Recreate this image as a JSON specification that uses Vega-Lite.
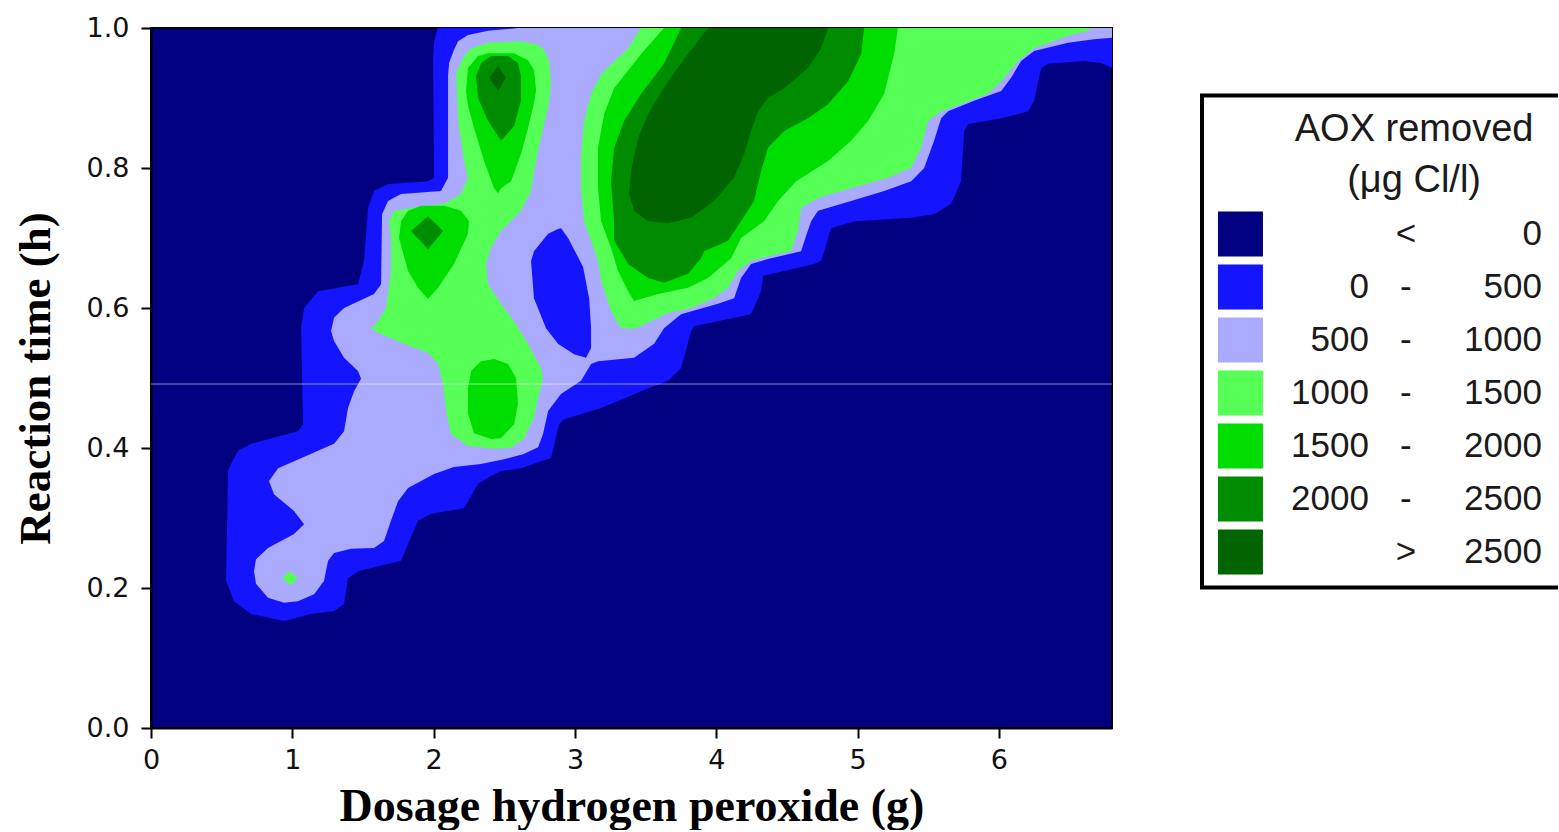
{
"$schema":"https://vega.github.io/schema/vega-lite/v6.json",
"padding":{"left":12,"top":13,"right":0,"bottom":0},
"background":"white",
"bounds":"flush",
"spacing":88,
"hconcat":[
{
"width":961,"height":700,
"view":{"fill":"#000080","stroke":"black","strokeWidth":2},
"layer":[
{
"data":{"values":[
{"b":"a","c":1,"i":0,"x":2.028,"y":1},{"b":"a","c":1,"i":1,"x":6.8,"y":1},{"b":"a","c":1,"i":2,"x":6.8,"y":0.943},{"b":"a","c":1,"i":3,"x":6.723,"y":0.95},{"b":"a","c":1,"i":4,"x":6.603,"y":0.953},{"b":"a","c":1,"i":5,"x":6.348,"y":0.949},{"b":"a","c":1,"i":6,"x":6.299,"y":0.943},{"b":"a","c":1,"i":7,"x":6.249,"y":0.896},{"b":"a","c":1,"i":8,"x":6.207,"y":0.881},{"b":"a","c":1,"i":9,"x":6.016,"y":0.871},{"b":"a","c":1,"i":10,"x":5.782,"y":0.863},{"b":"a","c":1,"i":11,"x":5.754,"y":0.853},{"b":"a","c":1,"i":12,"x":5.732,"y":0.781},{"b":"a","c":1,"i":13,"x":5.662,"y":0.749},{"b":"a","c":1,"i":14,"x":5.541,"y":0.734},{"b":"a","c":1,"i":15,"x":5.379,"y":0.729},{"b":"a","c":1,"i":16,"x":4.975,"y":0.724},{"b":"a","c":1,"i":17,"x":4.812,"y":0.714},{"b":"a","c":1,"i":18,"x":4.742,"y":0.667},{"b":"a","c":1,"i":19,"x":4.692,"y":0.663},{"b":"a","c":1,"i":20,"x":4.48,"y":0.653},{"b":"a","c":1,"i":21,"x":4.331,"y":0.646},{"b":"a","c":1,"i":22,"x":4.317,"y":0.624},{"b":"a","c":1,"i":23,"x":4.246,"y":0.591},{"b":"a","c":1,"i":24,"x":4.126,"y":0.586},{"b":"a","c":1,"i":25,"x":3.843,"y":0.574},{"b":"a","c":1,"i":26,"x":3.822,"y":0.567},{"b":"a","c":1,"i":27,"x":3.751,"y":0.514},{"b":"a","c":1,"i":28,"x":3.659,"y":0.496},{"b":"a","c":1,"i":29,"x":3.468,"y":0.481},{"b":"a","c":1,"i":30,"x":3.185,"y":0.457},{"b":"a","c":1,"i":31,"x":2.923,"y":0.441},{"b":"a","c":1,"i":32,"x":2.887,"y":0.434},{"b":"a","c":1,"i":33,"x":2.831,"y":0.386},{"b":"a","c":1,"i":34,"x":2.619,"y":0.371},{"b":"a","c":1,"i":35,"x":2.477,"y":0.367},{"b":"a","c":1,"i":36,"x":2.406,"y":0.36},{"b":"a","c":1,"i":37,"x":2.314,"y":0.349},{"b":"a","c":1,"i":38,"x":2.215,"y":0.314},{"b":"a","c":1,"i":39,"x":1.982,"y":0.306},{"b":"a","c":1,"i":40,"x":1.89,"y":0.296},{"b":"a","c":1,"i":41,"x":1.819,"y":0.263},{"b":"a","c":1,"i":42,"x":1.769,"y":0.239},{"b":"a","c":1,"i":43,"x":1.465,"y":0.224},{"b":"a","c":1,"i":44,"x":1.394,"y":0.214},{"b":"a","c":1,"i":45,"x":1.366,"y":0.177},{"b":"a","c":1,"i":46,"x":1.295,"y":0.167},{"b":"a","c":1,"i":47,"x":1.132,"y":0.163},{"b":"a","c":1,"i":48,"x":0.941,"y":0.153},{"b":"a","c":1,"i":49,"x":0.708,"y":0.163},{"b":"a","c":1,"i":50,"x":0.587,"y":0.181},{"b":"a","c":1,"i":51,"x":0.531,"y":0.21},{"b":"a","c":1,"i":52,"x":0.545,"y":0.367},{"b":"a","c":1,"i":53,"x":0.566,"y":0.377},{"b":"a","c":1,"i":54,"x":0.616,"y":0.396},{"b":"a","c":1,"i":55,"x":0.708,"y":0.406},{"b":"a","c":1,"i":56,"x":1.04,"y":0.424},{"b":"a","c":1,"i":57,"x":1.076,"y":0.434},{"b":"a","c":1,"i":58,"x":1.062,"y":0.571},{"b":"a","c":1,"i":59,"x":1.083,"y":0.6},{"b":"a","c":1,"i":60,"x":1.182,"y":0.624},{"b":"a","c":1,"i":61,"x":1.465,"y":0.634},{"b":"a","c":1,"i":62,"x":1.507,"y":0.667},{"b":"a","c":1,"i":63,"x":1.536,"y":0.743},{"b":"a","c":1,"i":64,"x":1.578,"y":0.767},{"b":"a","c":1,"i":65,"x":1.677,"y":0.777},{"b":"a","c":1,"i":66,"x":1.96,"y":0.781},{"b":"a","c":1,"i":67,"x":2.003,"y":0.786},{"b":"a","c":1,"i":68,"x":1.996,"y":0.96},{"b":"a","c":1,"i":69,"x":2.003,"y":0.979},
{"b":"b","c":2,"i":0,"x":2.597,"y":1},{"b":"b","c":2,"i":1,"x":2.385,"y":0.996},{"b":"b","c":2,"i":2,"x":2.243,"y":0.99},{"b":"b","c":2,"i":3,"x":2.173,"y":0.981},{"b":"b","c":2,"i":4,"x":2.144,"y":0.969},{"b":"b","c":2,"i":5,"x":2.109,"y":0.95},{"b":"b","c":2,"i":6,"x":2.102,"y":0.931},{"b":"b","c":2,"i":7,"x":2.102,"y":0.786},{"b":"b","c":2,"i":8,"x":2.052,"y":0.767},{"b":"b","c":2,"i":9,"x":1.769,"y":0.763},{"b":"b","c":2,"i":10,"x":1.677,"y":0.753},{"b":"b","c":2,"i":11,"x":1.635,"y":0.734},{"b":"b","c":2,"i":12,"x":1.628,"y":0.634},{"b":"b","c":2,"i":13,"x":1.578,"y":0.62},{"b":"b","c":2,"i":14,"x":1.366,"y":0.6},{"b":"b","c":2,"i":15,"x":1.295,"y":0.586},{"b":"b","c":2,"i":16,"x":1.274,"y":0.567},{"b":"b","c":2,"i":17,"x":1.295,"y":0.553},{"b":"b","c":2,"i":18,"x":1.366,"y":0.529},{"b":"b","c":2,"i":19,"x":1.465,"y":0.51},{"b":"b","c":2,"i":20,"x":1.486,"y":0.499},{"b":"b","c":2,"i":21,"x":1.437,"y":0.481},{"b":"b","c":2,"i":22,"x":1.394,"y":0.457},{"b":"b","c":2,"i":23,"x":1.366,"y":0.424},{"b":"b","c":2,"i":24,"x":1.295,"y":0.406},{"b":"b","c":2,"i":25,"x":1.182,"y":0.396},{"b":"b","c":2,"i":26,"x":1.012,"y":0.381},{"b":"b","c":2,"i":27,"x":0.899,"y":0.371},{"b":"b","c":2,"i":28,"x":0.835,"y":0.353},{"b":"b","c":2,"i":29,"x":0.87,"y":0.334},{"b":"b","c":2,"i":30,"x":1.012,"y":0.31},{"b":"b","c":2,"i":31,"x":1.083,"y":0.291},{"b":"b","c":2,"i":32,"x":1.012,"y":0.277},{"b":"b","c":2,"i":33,"x":0.828,"y":0.257},{"b":"b","c":2,"i":34,"x":0.743,"y":0.241},{"b":"b","c":2,"i":35,"x":0.729,"y":0.224},{"b":"b","c":2,"i":36,"x":0.743,"y":0.206},{"b":"b","c":2,"i":37,"x":0.828,"y":0.186},{"b":"b","c":2,"i":38,"x":0.941,"y":0.179},{"b":"b","c":2,"i":39,"x":1.04,"y":0.181},{"b":"b","c":2,"i":40,"x":1.154,"y":0.191},{"b":"b","c":2,"i":41,"x":1.224,"y":0.21},{"b":"b","c":2,"i":42,"x":1.253,"y":0.239},{"b":"b","c":2,"i":43,"x":1.295,"y":0.25},{"b":"b","c":2,"i":44,"x":1.415,"y":0.256},{"b":"b","c":2,"i":45,"x":1.578,"y":0.257},{"b":"b","c":2,"i":46,"x":1.649,"y":0.267},{"b":"b","c":2,"i":47,"x":1.698,"y":0.296},{"b":"b","c":2,"i":48,"x":1.748,"y":0.324},{"b":"b","c":2,"i":49,"x":1.819,"y":0.343},{"b":"b","c":2,"i":50,"x":2.003,"y":0.363},{"b":"b","c":2,"i":51,"x":2.144,"y":0.373},{"b":"b","c":2,"i":52,"x":2.335,"y":0.377},{"b":"b","c":2,"i":53,"x":2.498,"y":0.384},{"b":"b","c":2,"i":54,"x":2.633,"y":0.391},{"b":"b","c":2,"i":55,"x":2.739,"y":0.401},{"b":"b","c":2,"i":56,"x":2.774,"y":0.42},{"b":"b","c":2,"i":57,"x":2.81,"y":0.453},{"b":"b","c":2,"i":58,"x":2.901,"y":0.477},{"b":"b","c":2,"i":59,"x":3.043,"y":0.496},{"b":"b","c":2,"i":60,"x":3.114,"y":0.52},{"b":"b","c":2,"i":61,"x":3.163,"y":0.524},{"b":"b","c":2,"i":62,"x":3.418,"y":0.529},{"b":"b","c":2,"i":63,"x":3.56,"y":0.549},{"b":"b","c":2,"i":64,"x":3.63,"y":0.571},{"b":"b","c":2,"i":65,"x":3.751,"y":0.591},{"b":"b","c":2,"i":66,"x":4.012,"y":0.606},{"b":"b","c":2,"i":67,"x":4.126,"y":0.614},{"b":"b","c":2,"i":68,"x":4.175,"y":0.643},{"b":"b","c":2,"i":69,"x":4.246,"y":0.663},{"b":"b","c":2,"i":70,"x":4.366,"y":0.67},{"b":"b","c":2,"i":71,"x":4.6,"y":0.681},{"b":"b","c":2,"i":72,"x":4.635,"y":0.703},{"b":"b","c":2,"i":73,"x":4.671,"y":0.724},{"b":"b","c":2,"i":74,"x":4.72,"y":0.739},{"b":"b","c":2,"i":75,"x":4.954,"y":0.753},{"b":"b","c":2,"i":76,"x":5.188,"y":0.767},{"b":"b","c":2,"i":77,"x":5.379,"y":0.781},{"b":"b","c":2,"i":78,"x":5.471,"y":0.8},{"b":"b","c":2,"i":79,"x":5.541,"y":0.839},{"b":"b","c":2,"i":80,"x":5.591,"y":0.871},{"b":"b","c":2,"i":81,"x":5.64,"y":0.881},{"b":"b","c":2,"i":82,"x":5.824,"y":0.896},{"b":"b","c":2,"i":83,"x":6.016,"y":0.91},{"b":"b","c":2,"i":84,"x":6.086,"y":0.929},{"b":"b","c":2,"i":85,"x":6.157,"y":0.953},{"b":"b","c":2,"i":86,"x":6.249,"y":0.967},{"b":"b","c":2,"i":87,"x":6.489,"y":0.979},{"b":"b","c":2,"i":88,"x":6.673,"y":0.984},{"b":"b","c":2,"i":89,"x":6.8,"y":0.986},{"b":"b","c":2,"i":90,"x":6.8,"y":1},
{"b":"h","c":1,"i":0,"x":2.88,"y":0.713},{"b":"h","c":1,"i":1,"x":2.902,"y":0.714},{"b":"h","c":1,"i":2,"x":2.951,"y":0.7},{"b":"h","c":1,"i":3,"x":3.057,"y":0.659},{"b":"h","c":1,"i":4,"x":3.1,"y":0.614},{"b":"h","c":1,"i":5,"x":3.114,"y":0.571},{"b":"h","c":1,"i":6,"x":3.114,"y":0.543},{"b":"h","c":1,"i":7,"x":3.078,"y":0.529},{"b":"h","c":1,"i":8,"x":2.994,"y":0.534},{"b":"h","c":1,"i":9,"x":2.88,"y":0.549},{"b":"h","c":1,"i":10,"x":2.795,"y":0.571},{"b":"h","c":1,"i":11,"x":2.71,"y":0.614},{"b":"h","c":1,"i":12,"x":2.689,"y":0.667},{"b":"h","c":1,"i":13,"x":2.71,"y":0.681},{"b":"h","c":1,"i":14,"x":2.81,"y":0.706},
{"b":"d","c":3,"i":0,"x":0.927,"y":0.214},{"b":"d","c":3,"i":1,"x":0.984,"y":0.224},{"b":"d","c":3,"i":2,"x":1.04,"y":0.214},{"b":"d","c":3,"i":3,"x":0.984,"y":0.204},
{"b":"e","c":3,"i":0,"x":2.215,"y":0.96},{"b":"e","c":3,"i":1,"x":2.265,"y":0.971},{"b":"e","c":3,"i":2,"x":2.385,"y":0.979},{"b":"e","c":3,"i":3,"x":2.618,"y":0.981},{"b":"e","c":3,"i":4,"x":2.739,"y":0.976},{"b":"e","c":3,"i":5,"x":2.781,"y":0.969},{"b":"e","c":3,"i":6,"x":2.816,"y":0.954},{"b":"e","c":3,"i":7,"x":2.831,"y":0.921},{"b":"e","c":3,"i":8,"x":2.816,"y":0.893},{"b":"e","c":3,"i":9,"x":2.76,"y":0.843},{"b":"e","c":3,"i":10,"x":2.739,"y":0.824},{"b":"e","c":3,"i":11,"x":2.71,"y":0.796},{"b":"e","c":3,"i":12,"x":2.689,"y":0.767},{"b":"e","c":3,"i":13,"x":2.618,"y":0.739},{"b":"e","c":3,"i":14,"x":2.477,"y":0.71},{"b":"e","c":3,"i":15,"x":2.406,"y":0.686},{"b":"e","c":3,"i":16,"x":2.371,"y":0.663},{"b":"e","c":3,"i":17,"x":2.385,"y":0.634},{"b":"e","c":3,"i":18,"x":2.477,"y":0.606},{"b":"e","c":3,"i":19,"x":2.569,"y":0.581},{"b":"e","c":3,"i":20,"x":2.668,"y":0.549},{"b":"e","c":3,"i":21,"x":2.76,"y":0.514},{"b":"e","c":3,"i":22,"x":2.774,"y":0.5},{"b":"e","c":3,"i":23,"x":2.739,"y":0.471},{"b":"e","c":3,"i":24,"x":2.71,"y":0.443},{"b":"e","c":3,"i":25,"x":2.64,"y":0.414},{"b":"e","c":3,"i":26,"x":2.548,"y":0.4},{"b":"e","c":3,"i":27,"x":2.427,"y":0.399},{"b":"e","c":3,"i":28,"x":2.243,"y":0.403},{"b":"e","c":3,"i":29,"x":2.123,"y":0.42},{"b":"e","c":3,"i":30,"x":2.088,"y":0.453},{"b":"e","c":3,"i":31,"x":2.067,"y":0.491},{"b":"e","c":3,"i":32,"x":2.031,"y":0.52},{"b":"e","c":3,"i":33,"x":1.96,"y":0.536},{"b":"e","c":3,"i":34,"x":1.79,"y":0.549},{"b":"e","c":3,"i":35,"x":1.628,"y":0.563},{"b":"e","c":3,"i":36,"x":1.557,"y":0.57},{"b":"e","c":3,"i":37,"x":1.606,"y":0.581},{"b":"e","c":3,"i":38,"x":1.663,"y":0.6},{"b":"e","c":3,"i":39,"x":1.677,"y":0.62},{"b":"e","c":3,"i":40,"x":1.698,"y":0.653},{"b":"e","c":3,"i":41,"x":1.698,"y":0.7},{"b":"e","c":3,"i":42,"x":1.684,"y":0.724},{"b":"e","c":3,"i":43,"x":1.72,"y":0.739},{"b":"e","c":3,"i":44,"x":1.84,"y":0.743},{"b":"e","c":3,"i":45,"x":2.074,"y":0.749},{"b":"e","c":3,"i":46,"x":2.194,"y":0.763},{"b":"e","c":3,"i":47,"x":2.243,"y":0.786},{"b":"e","c":3,"i":48,"x":2.215,"y":0.81},{"b":"e","c":3,"i":49,"x":2.173,"y":0.867},{"b":"e","c":3,"i":50,"x":2.159,"y":0.936},
{"b":"f","c":3,"i":0,"x":3.468,"y":1},{"b":"f","c":3,"i":1,"x":6.652,"y":1},{"b":"f","c":3,"i":2,"x":6.631,"y":0.996},{"b":"f","c":3,"i":3,"x":6.489,"y":0.989},{"b":"f","c":3,"i":4,"x":6.249,"y":0.971},{"b":"f","c":3,"i":5,"x":6.136,"y":0.953},{"b":"f","c":3,"i":6,"x":6.016,"y":0.924},{"b":"f","c":3,"i":7,"x":5.923,"y":0.906},{"b":"f","c":3,"i":8,"x":5.732,"y":0.891},{"b":"f","c":3,"i":9,"x":5.591,"y":0.881},{"b":"f","c":3,"i":10,"x":5.499,"y":0.867},{"b":"f","c":3,"i":11,"x":5.449,"y":0.829},{"b":"f","c":3,"i":12,"x":5.379,"y":0.8},{"b":"f","c":3,"i":13,"x":5.216,"y":0.786},{"b":"f","c":3,"i":14,"x":4.954,"y":0.771},{"b":"f","c":3,"i":15,"x":4.72,"y":0.757},{"b":"f","c":3,"i":16,"x":4.6,"y":0.743},{"b":"f","c":3,"i":17,"x":4.579,"y":0.71},{"b":"f","c":3,"i":18,"x":4.529,"y":0.681},{"b":"f","c":3,"i":19,"x":4.366,"y":0.674},{"b":"f","c":3,"i":20,"x":4.246,"y":0.667},{"b":"f","c":3,"i":21,"x":4.154,"y":0.653},{"b":"f","c":3,"i":22,"x":4.083,"y":0.629},{"b":"f","c":3,"i":23,"x":3.984,"y":0.614},{"b":"f","c":3,"i":24,"x":3.822,"y":0.6},{"b":"f","c":3,"i":25,"x":3.659,"y":0.593},{"b":"f","c":3,"i":26,"x":3.539,"y":0.581},{"b":"f","c":3,"i":27,"x":3.418,"y":0.57},{"b":"f","c":3,"i":28,"x":3.326,"y":0.571},{"b":"f","c":3,"i":29,"x":3.255,"y":0.596},{"b":"f","c":3,"i":30,"x":3.185,"y":0.639},{"b":"f","c":3,"i":31,"x":3.163,"y":0.667},{"b":"f","c":3,"i":32,"x":3.114,"y":0.696},{"b":"f","c":3,"i":33,"x":3.064,"y":0.724},{"b":"f","c":3,"i":34,"x":3.043,"y":0.771},{"b":"f","c":3,"i":35,"x":3.043,"y":0.82},{"b":"f","c":3,"i":36,"x":3.064,"y":0.867},{"b":"f","c":3,"i":37,"x":3.114,"y":0.906},{"b":"f","c":3,"i":38,"x":3.185,"y":0.934},{"b":"f","c":3,"i":39,"x":3.376,"y":0.971},
{"b":"g","c":4,"i":0,"x":2.314,"y":0.96},{"b":"g","c":4,"i":1,"x":2.385,"y":0.964},{"b":"g","c":4,"i":2,"x":2.569,"y":0.964},{"b":"g","c":4,"i":3,"x":2.668,"y":0.954},{"b":"g","c":4,"i":4,"x":2.71,"y":0.94},{"b":"g","c":4,"i":5,"x":2.725,"y":0.911},{"b":"g","c":4,"i":6,"x":2.71,"y":0.893},{"b":"g","c":4,"i":7,"x":2.668,"y":0.857},{"b":"g","c":4,"i":8,"x":2.618,"y":0.82},{"b":"g","c":4,"i":9,"x":2.548,"y":0.781},{"b":"g","c":4,"i":10,"x":2.477,"y":0.771},{"b":"g","c":4,"i":11,"x":2.456,"y":0.764},{"b":"g","c":4,"i":12,"x":2.427,"y":0.771},{"b":"g","c":4,"i":13,"x":2.357,"y":0.81},{"b":"g","c":4,"i":14,"x":2.286,"y":0.857},{"b":"g","c":4,"i":15,"x":2.243,"y":0.889},{"b":"g","c":4,"i":16,"x":2.229,"y":0.91},{"b":"g","c":4,"i":17,"x":2.243,"y":0.943},
{"b":"k","c":4,"i":0,"x":1.819,"y":0.739},{"b":"k","c":4,"i":1,"x":1.911,"y":0.746},{"b":"k","c":4,"i":2,"x":2.074,"y":0.746},{"b":"k","c":4,"i":3,"x":2.194,"y":0.739},{"b":"k","c":4,"i":4,"x":2.25,"y":0.724},{"b":"k","c":4,"i":5,"x":2.243,"y":0.706},{"b":"k","c":4,"i":6,"x":2.144,"y":0.663},{"b":"k","c":4,"i":7,"x":2.031,"y":0.629},{"b":"k","c":4,"i":8,"x":1.96,"y":0.613},{"b":"k","c":4,"i":9,"x":1.89,"y":0.629},{"b":"k","c":4,"i":10,"x":1.819,"y":0.653},{"b":"k","c":4,"i":11,"x":1.755,"y":0.7},{"b":"k","c":4,"i":12,"x":1.769,"y":0.724},
{"b":"m","c":4,"i":0,"x":2.335,"y":0.524},{"b":"m","c":4,"i":1,"x":2.427,"y":0.527},{"b":"m","c":4,"i":2,"x":2.527,"y":0.52},{"b":"m","c":4,"i":3,"x":2.583,"y":0.5},{"b":"m","c":4,"i":4,"x":2.597,"y":0.463},{"b":"m","c":4,"i":5,"x":2.569,"y":0.434},{"b":"m","c":4,"i":6,"x":2.477,"y":0.414},{"b":"m","c":4,"i":7,"x":2.406,"y":0.413},{"b":"m","c":4,"i":8,"x":2.286,"y":0.421},{"b":"m","c":4,"i":9,"x":2.243,"y":0.449},{"b":"m","c":4,"i":10,"x":2.243,"y":0.486},{"b":"m","c":4,"i":11,"x":2.265,"y":0.51},
{"b":"n","c":4,"i":0,"x":3.63,"y":1},{"b":"n","c":4,"i":1,"x":5.286,"y":1},{"b":"n","c":4,"i":2,"x":5.258,"y":0.963},{"b":"n","c":4,"i":3,"x":5.188,"y":0.906},{"b":"n","c":4,"i":4,"x":5.074,"y":0.867},{"b":"n","c":4,"i":5,"x":4.954,"y":0.839},{"b":"n","c":4,"i":6,"x":4.791,"y":0.81},{"b":"n","c":4,"i":7,"x":4.565,"y":0.781},{"b":"n","c":4,"i":8,"x":4.437,"y":0.753},{"b":"n","c":4,"i":9,"x":4.338,"y":0.724},{"b":"n","c":4,"i":10,"x":4.175,"y":0.7},{"b":"n","c":4,"i":11,"x":4.105,"y":0.671},{"b":"n","c":4,"i":12,"x":3.942,"y":0.643},{"b":"n","c":4,"i":13,"x":3.8,"y":0.629},{"b":"n","c":4,"i":14,"x":3.588,"y":0.62},{"b":"n","c":4,"i":15,"x":3.418,"y":0.61},{"b":"n","c":4,"i":16,"x":3.376,"y":0.624},{"b":"n","c":4,"i":17,"x":3.305,"y":0.653},{"b":"n","c":4,"i":18,"x":3.255,"y":0.686},{"b":"n","c":4,"i":19,"x":3.185,"y":0.724},{"b":"n","c":4,"i":20,"x":3.163,"y":0.771},{"b":"n","c":4,"i":21,"x":3.163,"y":0.829},{"b":"n","c":4,"i":22,"x":3.206,"y":0.877},{"b":"n","c":4,"i":23,"x":3.277,"y":0.914},{"b":"n","c":4,"i":24,"x":3.468,"y":0.963},
{"b":"p","c":5,"i":0,"x":2.406,"y":0.96},{"b":"p","c":5,"i":1,"x":2.527,"y":0.96},{"b":"p","c":5,"i":2,"x":2.597,"y":0.95},{"b":"p","c":5,"i":3,"x":2.618,"y":0.931},{"b":"p","c":5,"i":4,"x":2.618,"y":0.896},{"b":"p","c":5,"i":5,"x":2.569,"y":0.86},{"b":"p","c":5,"i":6,"x":2.477,"y":0.839},{"b":"p","c":5,"i":7,"x":2.385,"y":0.867},{"b":"p","c":5,"i":8,"x":2.314,"y":0.9},{"b":"p","c":5,"i":9,"x":2.3,"y":0.931},{"b":"p","c":5,"i":10,"x":2.336,"y":0.95},
{"b":"q","c":5,"i":0,"x":1.96,"y":0.731},{"b":"q","c":5,"i":1,"x":2.067,"y":0.71},{"b":"q","c":5,"i":2,"x":1.96,"y":0.684},{"b":"q","c":5,"i":3,"x":1.84,"y":0.71},
{"b":"s","c":5,"i":0,"x":3.751,"y":1},{"b":"s","c":5,"i":1,"x":5.046,"y":1},{"b":"s","c":5,"i":2,"x":5.025,"y":0.963},{"b":"s","c":5,"i":3,"x":4.933,"y":0.924},{"b":"s","c":5,"i":4,"x":4.791,"y":0.891},{"b":"s","c":5,"i":5,"x":4.65,"y":0.871},{"b":"s","c":5,"i":6,"x":4.48,"y":0.853},{"b":"s","c":5,"i":7,"x":4.366,"y":0.829},{"b":"s","c":5,"i":8,"x":4.317,"y":0.796},{"b":"s","c":5,"i":9,"x":4.267,"y":0.753},{"b":"s","c":5,"i":10,"x":4.175,"y":0.724},{"b":"s","c":5,"i":11,"x":4.083,"y":0.696},{"b":"s","c":5,"i":12,"x":3.914,"y":0.681},{"b":"s","c":5,"i":13,"x":3.892,"y":0.671},{"b":"s","c":5,"i":14,"x":3.8,"y":0.649},{"b":"s","c":5,"i":15,"x":3.63,"y":0.636},{"b":"s","c":5,"i":16,"x":3.517,"y":0.643},{"b":"s","c":5,"i":17,"x":3.376,"y":0.663},{"b":"s","c":5,"i":18,"x":3.277,"y":0.696},{"b":"s","c":5,"i":19,"x":3.277,"y":0.724},{"b":"s","c":5,"i":20,"x":3.255,"y":0.781},{"b":"s","c":5,"i":21,"x":3.277,"y":0.829},{"b":"s","c":5,"i":22,"x":3.347,"y":0.867},{"b":"s","c":5,"i":23,"x":3.468,"y":0.906},{"b":"s","c":5,"i":24,"x":3.63,"y":0.949},
{"b":"t","c":6,"i":0,"x":2.456,"y":0.946},{"b":"t","c":6,"i":1,"x":2.512,"y":0.929},{"b":"t","c":6,"i":2,"x":2.456,"y":0.91},{"b":"t","c":6,"i":3,"x":2.392,"y":0.929},
{"b":"u","c":6,"i":0,"x":3.942,"y":1},{"b":"u","c":6,"i":1,"x":4.791,"y":1},{"b":"u","c":6,"i":2,"x":4.742,"y":0.971},{"b":"u","c":6,"i":3,"x":4.65,"y":0.943},{"b":"u","c":6,"i":4,"x":4.48,"y":0.914},{"b":"u","c":6,"i":5,"x":4.366,"y":0.9},{"b":"u","c":6,"i":6,"x":4.296,"y":0.881},{"b":"u","c":6,"i":7,"x":4.246,"y":0.853},{"b":"u","c":6,"i":8,"x":4.197,"y":0.82},{"b":"u","c":6,"i":9,"x":4.126,"y":0.786},{"b":"u","c":6,"i":10,"x":3.984,"y":0.753},{"b":"u","c":6,"i":11,"x":3.822,"y":0.729},{"b":"u","c":6,"i":12,"x":3.659,"y":0.721},{"b":"u","c":6,"i":13,"x":3.517,"y":0.724},{"b":"u","c":6,"i":14,"x":3.418,"y":0.739},{"b":"u","c":6,"i":15,"x":3.383,"y":0.763},{"b":"u","c":6,"i":16,"x":3.397,"y":0.796},{"b":"u","c":6,"i":17,"x":3.447,"y":0.843},{"b":"u","c":6,"i":18,"x":3.517,"y":0.877},{"b":"u","c":6,"i":19,"x":3.659,"y":0.924},{"b":"u","c":6,"i":20,"x":3.8,"y":0.963}
]},
"encoding":{
"x":{"field":"x","type":"quantitative","scale":{"domain":[0,6.8],"nice":false,"zero":false},
 "axis":{"title":"Dosage hydrogen peroxide (g)","values":[0,1,2,3,4,5,6],"format":"d","labelFlush":false,"grid":false,"labelFont":"DejaVu Sans","labelFontSize":27,"labelColor":"#111","labelPadding":9,"tickSize":10,"tickWidth":2,"tickColor":"black","domainColor":"black","domainWidth":2,"titleFont":"Liberation Serif","titleFontSize":46,"titleFontWeight":"bold","titleColor":"black","titlePadding":11}},
"y":{"field":"y","type":"quantitative","scale":{"domain":[0,1],"nice":false,"zero":false},
 "axis":{"title":"Reaction time (h)","values":[0,0.2,0.4,0.6,0.8,1],"format":".1f","grid":false,"labelFont":"DejaVu Sans","labelFontSize":27,"labelColor":"#111","labelPadding":12,"tickSize":10,"tickWidth":2,"tickColor":"black","domainColor":"black","domainWidth":2,"titleFont":"Liberation Serif","titleFontSize":45,"titleFontWeight":"bold","titleColor":"black","titlePadding":28}},
"order":{"field":"i","type":"quantitative"},
"detail":{"field":"b","type":"nominal"},
"color":{"field":"c","type":"ordinal","scale":{"domain":[0,1,2,3,4,5,6],"range":["#000080","#1414FF","#AAAAFF","#55FF55","#00DD00","#008C00","#006400"]},"legend":null}
},
"layer":[
{"transform":[{"filter":"datum.b==='a'"}],"mark":{"type":"line","filled":true,"interpolate":"linear-closed","clip":true}},
{"transform":[{"filter":"datum.b==='b'"}],"mark":{"type":"line","filled":true,"interpolate":"linear-closed","clip":true}},
{"transform":[{"filter":"datum.b==='h'"}],"mark":{"type":"line","filled":true,"interpolate":"linear-closed","clip":true}},
{"transform":[{"filter":"datum.c===3"}],"mark":{"type":"line","filled":true,"interpolate":"linear-closed","clip":true}},
{"transform":[{"filter":"datum.c===4"}],"mark":{"type":"line","filled":true,"interpolate":"linear-closed","clip":true}},
{"transform":[{"filter":"datum.c===5"}],"mark":{"type":"line","filled":true,"interpolate":"linear-closed","clip":true}},
{"transform":[{"filter":"datum.c===6"}],"mark":{"type":"line","filled":true,"interpolate":"linear-closed","clip":true}}
]
},
{"data":{"values":[{}]},"mark":{"type":"rule","color":"white","opacity":0.55,"strokeWidth":1},"encoding":{"y":{"datum":0.4914,"type":"quantitative",
 "axis":{"title":"Reaction time (h)","values":[0,0.2,0.4,0.6,0.8,1],"format":".1f","grid":false,"labelFont":"DejaVu Sans","labelFontSize":27,"labelColor":"#111","labelPadding":12,"tickSize":10,"tickWidth":2,"tickColor":"black","domainColor":"black","domainWidth":2,"titleFont":"Liberation Serif","titleFontSize":45,"titleFontWeight":"bold","titleColor":"black","titlePadding":28}}}}
]
},
{
"width":358,"height":700,
"view":{"stroke":null},
"data":{"values":[
{"r":0,"c":0,"lo":"","op":"<","hi":"0"},
{"r":1,"c":1,"lo":"0","op":"-","hi":"500"},
{"r":2,"c":2,"lo":"500","op":"-","hi":"1000"},
{"r":3,"c":3,"lo":"1000","op":"-","hi":"1500"},
{"r":4,"c":4,"lo":"1500","op":"-","hi":"2000"},
{"r":5,"c":5,"lo":"2000","op":"-","hi":"2500"},
{"r":6,"c":6,"lo":"","op":">","hi":"2500"}
]},
"layer":[
{"data":{"values":[{}]},"mark":{"type":"rect","fill":"white","stroke":"black","strokeWidth":4,"clip":true},
 "encoding":{"x":{"datum":0.0056,"type":"quantitative","scale":{"domain":[0,1],"nice":false,"zero":false},"axis":null},"x2":{"datum":1.05},
 "y":{"datum":-2.613,"type":"quantitative","scale":{"domain":[-3.887,9.32],"nice":false,"zero":false,"reverse":true},"axis":null},"y2":{"datum":6.67}}},
{"mark":{"type":"point","shape":"square","filled":true,"size":2025,"opacity":1,"strokeWidth":0},
 "encoding":{"x":{"datum":0.113,"type":"quantitative"},"y":{"field":"r","type":"quantitative"},
 "color":{"field":"c","type":"ordinal","scale":{"domain":[0,1,2,3,4,5,6],"range":["#000080","#1414FF","#AAAAFF","#55FF55","#00DD00","#008C00","#006400"]},"legend":null}}},
{"mark":{"type":"text","align":"right","baseline":"middle","font":"Liberation Sans","fontSize":35,"color":"#1a1a1a"},
 "encoding":{"x":{"datum":0.472,"type":"quantitative"},"y":{"field":"r","type":"quantitative"},"text":{"field":"lo"}}},
{"mark":{"type":"text","align":"center","baseline":"middle","font":"Liberation Sans","fontSize":35,"color":"#1a1a1a"},
 "encoding":{"x":{"datum":0.575,"type":"quantitative"},"y":{"field":"r","type":"quantitative"},"text":{"field":"op"}}},
{"mark":{"type":"text","align":"right","baseline":"middle","font":"Liberation Sans","fontSize":35,"color":"#1a1a1a"},
 "encoding":{"x":{"datum":0.955,"type":"quantitative"},"y":{"field":"r","type":"quantitative"},"text":{"field":"hi"}}},
{"data":{"values":[{}]},"mark":{"type":"text","text":["AOX removed","(μg Cl/l)"],"lineHeight":51,"align":"center","baseline":"middle","font":"Liberation Sans","fontSize":38,"color":"#1a1a1a"},
 "encoding":{"x":{"datum":0.598,"type":"quantitative"},"y":{"datum":-1.96,"type":"quantitative"}}}
]
}
]
}
